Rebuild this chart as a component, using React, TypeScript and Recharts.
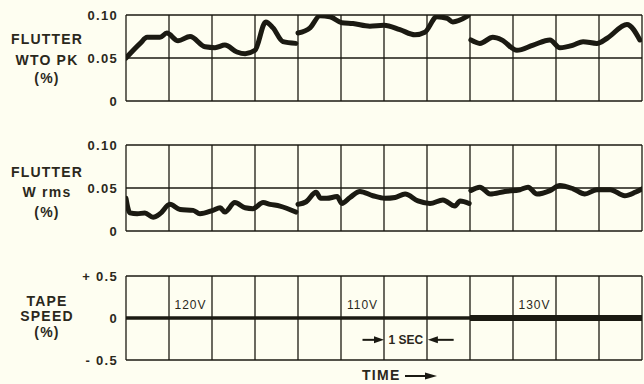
import React from "react";
import {
  LineChart,
  Line,
  XAxis,
  YAxis,
  CartesianGrid,
  ReferenceLine,
  ReferenceDot,
} from "recharts";

// flutter, weighted peak (%), one trace per supply voltage
const wtoT120 = [0, 0.33, 0.49, 0.79, 0.95, 1.21, 1.49, 1.84, 2.07, 2.3, 2.58, 2.77, 3.0, 3.25, 3.42, 3.65, 3.95];
const wtoV120 = [0.05, 0.067, 0.074, 0.074, 0.079, 0.07, 0.075, 0.063, 0.062, 0.065, 0.057, 0.055, 0.059, 0.092, 0.085, 0.069, 0.067];
const wtoT110 = [4.0, 4.28, 4.51, 4.74, 5.02, 5.28, 5.67, 6.0, 6.37, 6.72, 6.95, 7.23, 7.47, 7.6, 7.95];
const wtoV110 = [0.079, 0.085, 0.099, 0.098, 0.091, 0.09, 0.087, 0.088, 0.083, 0.077, 0.08, 0.098, 0.096, 0.092, 0.099];
const wtoT130 = [8.02, 8.23, 8.53, 8.74, 9.09, 9.47, 9.86, 10.09, 10.4, 10.63, 10.95, 11.19, 11.65, 11.95];
const wtoV130 = [0.071, 0.067, 0.074, 0.071, 0.059, 0.065, 0.071, 0.062, 0.065, 0.069, 0.067, 0.073, 0.089, 0.071];

// flutter, weighted rms (%)
const rmsT120 = [0, 0.09, 0.26, 0.44, 0.63, 0.79, 1.02, 1.26, 1.56, 1.72, 2.02, 2.19, 2.3, 2.53, 2.77, 2.95, 3.19, 3.35, 3.58, 3.95];
const rmsV120 = [0.038, 0.021, 0.02, 0.021, 0.016, 0.02, 0.031, 0.025, 0.024, 0.02, 0.024, 0.027, 0.022, 0.033, 0.027, 0.026, 0.033, 0.031, 0.029, 0.022];
const rmsT110 = [4.0, 4.19, 4.42, 4.53, 4.67, 4.91, 5.02, 5.21, 5.44, 5.74, 6.02, 6.26, 6.49, 6.79, 7.07, 7.37, 7.65, 7.77, 7.98];
const rmsV110 = [0.031, 0.034, 0.045, 0.038, 0.038, 0.04, 0.032, 0.039, 0.046, 0.041, 0.038, 0.039, 0.043, 0.035, 0.032, 0.036, 0.029, 0.035, 0.032];
const rmsT130 = [8.02, 8.23, 8.47, 8.81, 9.16, 9.35, 9.56, 9.86, 10.09, 10.4, 10.67, 10.95, 11.26, 11.6, 11.84, 12.0];
const rmsV130 = [0.047, 0.051, 0.043, 0.046, 0.048, 0.051, 0.043, 0.047, 0.053, 0.049, 0.043, 0.048, 0.048, 0.041, 0.045, 0.049];

// tape speed deviation (%)
const speedT120 = [0, 4];
const speedV120 = [0, 0];
const speedT110 = [4, 8];
const speedV110 = [0, 0];
const speedT130 = [8, 12];
const speedV130 = [0, 0];

const timeTicks = [0, 1, 2, 3, 4, 5, 6, 7, 8, 9, 10, 11, 12];
const flutterTicks = [0, 0.05, 0.1];
const flutterLabels = ["0", "0.05", "0.10"];
const speedTicks = [-0.5, 0, 0.5];
const speedLabels = ["- 0.5", "0", "+ 0.5"];

const voltages = ["120V", "110V", "130V"];
const voltageAt = [1.5, 5.5, 9.5];

const rows = (t: number[], v: number[]) => t.map((x, i) => ({ t: x, v: v[i] }));

const INK = "#1b1a12";
const TEXT = "#2b281c";
const PAPER = "#fefef1";
const FONT = "'Liberation Sans', Arial, sans-serif";

const tickStyle = { fill: TEXT, fontSize: 13, fontFamily: FONT, fontWeight: 700, letterSpacing: 1.3 };

const Arrow = (props: any) => {
  const { x1, y1, x2, y2 } = props;
  const dir = x2 > x1 ? 1 : -1;
  return (
    <g>
      <line x1={x1} y1={y1} x2={x2 - dir * 6} y2={y2} stroke={INK} strokeWidth={2} />
      <polygon
        points={`${x2},${y2} ${x2 - dir * 10},${y2 - 3.5} ${x2 - dir * 10},${y2 + 3.5}`}
        fill={INK}
      />
    </g>
  );
};

function SideLabel({ lines, centers }: { lines: string[]; centers: number[] }) {
  return (
    <>
      {lines.map((s, i) => (
        <div
          key={i}
          style={{
            position: "absolute",
            left: 0,
            width: 94,
            top: centers[i] - 8,
            height: 16,
            lineHeight: "16px",
            textAlign: "center",
            fontFamily: FONT,
            fontWeight: 700,
            fontSize: 14,
            letterSpacing: 1.2,
            color: TEXT,
            whiteSpace: "pre",
          }}
        >
          {s}
        </div>
      ))}
    </>
  );
}

function FlutterPanel({ series }: { series: { t: number[]; v: number[] }[] }) {
  return (
    <LineChart width={644} height={110} margin={{ top: 15, right: 2, bottom: 9, left: 0 }}>
      <CartesianGrid stroke={INK} strokeWidth={1.3} />
      <XAxis type="number" dataKey="t" domain={[0, 12]} ticks={timeTicks} hide allowDataOverflow />
      <YAxis
        type="number"
        domain={[0, 0.1]}
        ticks={flutterTicks}
        width={126}
        axisLine={false}
        tickLine={false}
        tick={tickStyle}
        tickFormatter={(v: number) => flutterLabels[flutterTicks.indexOf(v)] ?? String(v)}
        allowDataOverflow
      />
      {series.map((s, i) => (
        <Line
          key={i}
          data={rows(s.t, s.v)}
          dataKey="v"
          type="monotone"
          stroke={INK}
          strokeWidth={5}
          strokeLinecap="round"
          strokeLinejoin="round"
          dot={false}
          isAnimationActive={false}
        />
      ))}
    </LineChart>
  );
}

export default function App() {
  return (
    <div
      style={{
        position: "absolute",
        left: 0,
        top: 0,
        width: 644,
        height: 384,
        background: PAPER,
        overflow: "hidden",
      }}
    >
      <div style={{ position: "absolute", left: 0, top: 0 }}>
        <FlutterPanel
          series={[
            { t: wtoT120, v: wtoV120 },
            { t: wtoT110, v: wtoV110 },
            { t: wtoT130, v: wtoV130 },
          ]}
        />
      </div>
      <div style={{ position: "absolute", left: 0, top: 130 }}>
        <FlutterPanel
          series={[
            { t: rmsT120, v: rmsV120 },
            { t: rmsT110, v: rmsV110 },
            { t: rmsT130, v: rmsV130 },
          ]}
        />
      </div>
      <div style={{ position: "absolute", left: 0, top: 250 }}>
        <LineChart width={644} height={120} margin={{ top: 26, right: 2, bottom: 10, left: 0 }}>
          <CartesianGrid stroke={INK} strokeWidth={1.3} />
          <XAxis type="number" dataKey="t" domain={[0, 12]} ticks={timeTicks} hide />
          <YAxis
            type="number"
            domain={[-0.5, 0.5]}
            ticks={speedTicks}
            width={126}
            axisLine={false}
            tickLine={false}
            tick={tickStyle}
            tickFormatter={(v: number) => speedLabels[speedTicks.indexOf(v)] ?? String(v)}
          />
          <Line data={rows(speedT120, speedV120)} dataKey="v" stroke={INK} strokeWidth={3.5} dot={false} isAnimationActive={false} />
          <Line data={rows(speedT110, speedV110)} dataKey="v" stroke={INK} strokeWidth={3.5} dot={false} isAnimationActive={false} />
          <Line data={rows(speedT130, speedV130)} dataKey="v" stroke={INK} strokeWidth={6} dot={false} isAnimationActive={false} />
          {voltages.map((s, i) => (
            <ReferenceDot
              key={s}
              x={voltageAt[i]}
              y={0.16}
              r={0}
              fill="none"
              stroke="none"
              label={{ value: s, position: "center", fill: TEXT, fontSize: 12, fontFamily: FONT, letterSpacing: 1 }}
            />
          ))}
          <ReferenceLine segment={[{ x: 5.5, y: -0.26 }, { x: 6, y: -0.26 }]} shape={Arrow} />
          <ReferenceLine segment={[{ x: 7.62, y: -0.26 }, { x: 7.02, y: -0.26 }]} shape={Arrow} />
          <ReferenceDot
            x={6.51}
            y={-0.26}
            r={0}
            fill="none"
            stroke="none"
            label={{ value: "1 SEC", position: "center", fill: TEXT, fontSize: 12, fontWeight: 700, fontFamily: FONT }}
          />
        </LineChart>
      </div>
      <SideLabel lines={["FLUTTER", "WTO PK", "(%)"]} centers={[39, 60, 78]} />
      <SideLabel lines={["FLUTTER", "W rms", "(%)"]} centers={[172, 192, 212]} />
      <SideLabel lines={["TAPE", "SPEED", "(%)"]} centers={[301, 316, 332]} />
      <div
        style={{
          position: "absolute",
          left: 362,
          top: 368,
          height: 15,
          lineHeight: "15px",
          fontFamily: FONT,
          fontWeight: 700,
          fontSize: 14,
          letterSpacing: 1.3,
          color: TEXT,
          display: "flex",
          alignItems: "center",
          gap: 4,
        }}
      >
        TIME
        <svg width={32} height={10}>
          <line x1={0} y1={5} x2={24} y2={5} stroke={INK} strokeWidth={2} />
          <polygon points="32,5 20,1.5 20,8.5" fill={INK} />
        </svg>
      </div>
    </div>
  );
}
